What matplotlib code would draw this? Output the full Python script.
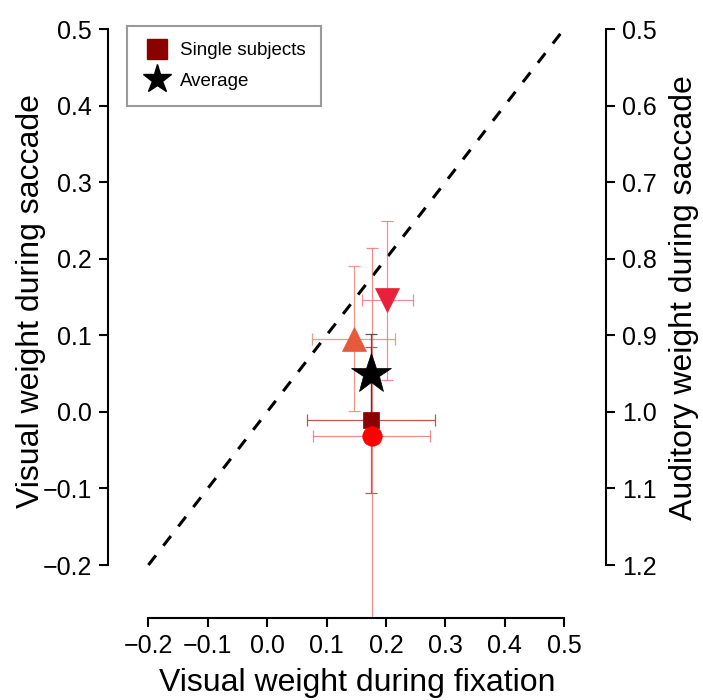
import matplotlib
matplotlib.use("Agg")
import matplotlib.pyplot as plt
from matplotlib.lines import Line2D
from matplotlib.ticker import FuncFormatter

plt.rcParams['font.family'] = ['Liberation Sans', 'DejaVu Sans']

# Data (visual weight during fixation / saccade), with error half-widths
labels = ["subject_square", "subject_circle", "subject_up", "subject_down", "average"]
x_fix = [0.175, 0.176, 0.146, 0.2025, 0.175]
y_sac = [-0.0105, -0.032, 0.0955, 0.1455, 0.050]
x_err = [0.1075, 0.0985, 0.070, 0.0435, 0.008]
y_err = [0.0955, 0.246, 0.0945, 0.1035, 0.052]
markers = ["s", "o", "^", "v", "*"]
colors = ["#8B0000", "#FF0000", "#E8583A", "#E8213A", "#000000"]
err_colors = ["#B03030", "#F07070", "#F08070", "#F07080", "#303030"]
msizes = [12, 14, 17, 17, 30]

diag = [-0.2, 0.5]
ticks_left = [-0.2, -0.1, 0.0, 0.1, 0.2, 0.3, 0.4, 0.5]
ticks_right = [0.5, 0.6, 0.7, 0.8, 0.9, 1.0, 1.1, 1.2]

fmt = FuncFormatter(lambda v, p: ("%.1f" % v).replace("-", "\u2212"))

fig = plt.figure(figsize=(7.03, 7.0), dpi=100)
ax = fig.add_axes([0.15363, 0.11714, 0.70839, 0.87414])
xlim = (-0.268, 0.5707)
ylim = (-0.2692, 0.53)
ax.set_xlim(*xlim)
ax.set_ylim(*ylim)

ax.plot(diag, diag, color="black", lw=2.2, dashes=(4, 4), zorder=1)

order = [0, 1, 2, 3, 4]
for i in order:
    ax.errorbar(x_fix[i], y_sac[i], xerr=x_err[i], yerr=y_err[i], fmt="none",
                ecolor=err_colors[i], elinewidth=0.9, capsize=4.5, capthick=0.9,
                alpha=0.8, zorder=2)
for i in order:
    ax.plot(x_fix[i], y_sac[i], marker=markers[i], ms=msizes[i], color=colors[i],
            mec=colors[i], mew=0.5, ls="none", zorder=3 + i)

for s in ["top", "right"]:
    ax.spines[s].set_visible(False)
ax.spines["left"].set_bounds(-0.2, 0.5)
ax.spines["bottom"].set_bounds(-0.2, 0.5)
for s in ["left", "bottom"]:
    ax.spines[s].set_linewidth(1.5)
ax.set_xticks(ticks_left)
ax.set_yticks(ticks_left)
ax.xaxis.set_major_formatter(fmt)
ax.yaxis.set_major_formatter(fmt)
ax.tick_params(axis="both", direction="out", length=6.5, width=1.5, labelsize=18, pad=5)

ax2 = ax.twinx()
ax2.set_ylim(1 - ylim[0], 1 - ylim[1])
for s in ["top", "left", "bottom"]:
    ax2.spines[s].set_visible(False)
ax2.spines["right"].set_bounds(0.5, 1.2)
ax2.spines["right"].set_linewidth(1.5)
ax2.set_yticks(ticks_right)
ax2.yaxis.set_major_formatter(fmt)
ax2.tick_params(axis="y", direction="out", length=6.5, width=1.5, labelsize=18, pad=5)

ax.set_xlabel("Visual weight during fixation", fontsize=23, labelpad=7)
ax.set_ylabel("Visual weight during saccade", fontsize=23)
ax.yaxis.set_label_coords((46 - 108) / 498, (618 - 301.5) / 611.9)
ax2.set_ylabel("Auditory weight during saccade", fontsize=23)
ax2.yaxis.set_label_coords((669 - 108) / 498, (618 - 297.5) / 611.9)

handles = [
    Line2D([], [], marker="s", color="#8B0000", ls="none", ms=15),
    Line2D([], [], marker="*", color="black", ls="none", ms=21),
]
leg = ax.legend(handles, ["Single subjects", "Average"], loc="upper left",
                bbox_to_anchor=((127 - 108) / 498, (618 - 26) / 611.9),
                borderaxespad=0, fontsize=13.5, frameon=True,
                fancybox=False, edgecolor="#808080", handletextpad=0.45,
                borderpad=0.85, labelspacing=0.72, handlelength=1.5)
leg.get_frame().set_linewidth(1.5)

fig.savefig("out.png", dpi=100)
